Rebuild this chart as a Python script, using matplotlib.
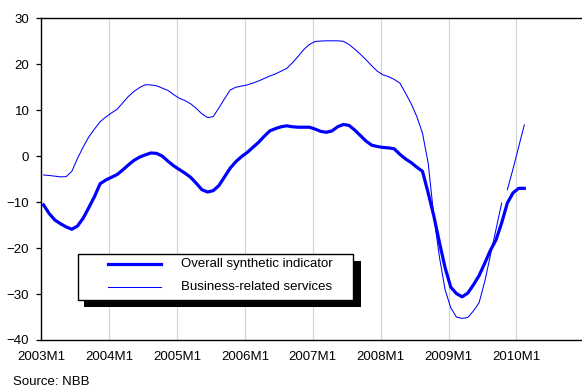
import matplotlib
matplotlib.use("Agg")
import matplotlib.pyplot as plt
import numpy as np
from matplotlib.patches import Rectangle
from matplotlib.lines import Line2D

plt.rcParams['font.family'] = ['Liberation Sans', 'DejaVu Sans']
plt.rcParams['font.size'] = 9.5

# monthly data, first value = 2003M1
overall = [
    -10.6, -12.5, -13.9, -14.7, -15.4, -15.9, -15.2, -13.5, -11.2, -8.8, -6.0, -5.2,
    -4.6, -4.0, -3.0, -1.9, -0.9, -0.2, 0.3, 0.7, 0.6, 0.0, -1.1, -2.1,
    -2.9, -3.7, -4.6, -5.9, -7.3, -7.8, -7.5, -6.4, -4.5, -2.6, -1.2, -0.1,
    0.8, 1.9, 3.0, 4.3, 5.5, 6.0, 6.4, 6.6, 6.4, 6.3, 6.3, 6.3,
    5.9, 5.4, 5.2, 5.5, 6.4, 6.9, 6.7, 5.7, 4.5, 3.3, 2.4, 2.1,
    1.9, 1.8, 1.6, 0.4, -0.6, -1.4, -2.4, -3.3, -8.0, -13.0, -18.8, -24.3,
    -28.5, -29.9, -30.6, -29.8, -28.0, -26.0, -23.3, -20.5, -18.2, -14.5, -10.2, -8.0,
    -7.0, -7.0,
]

# business-related services, 2003M1 - 2009M10
business = [
    -4.1, -4.2, -4.35, -4.5, -4.45, -3.3, -0.5, 2.0, 4.2, 5.9, 7.5, 8.5,
    9.4, 10.2, 11.6, 13.0, 14.1, 14.95, 15.55, 15.5, 15.3, 14.8, 14.3, 13.4,
    12.6, 12.1, 11.4, 10.4, 9.2, 8.4, 8.6, 10.5, 12.5, 14.4, 15.0, 15.25,
    15.5, 15.9, 16.35, 16.9, 17.45, 17.9, 18.5, 19.1, 20.3, 21.7, 23.2, 24.3,
    24.95, 25.05, 25.1, 25.1, 25.1, 25.0, 24.3, 23.3, 22.2, 21.0, 19.7, 18.5,
    17.7, 17.3, 16.7, 15.9, 13.7, 11.4, 8.6, 5.0, -1.5, -13.0, -22.0, -29.1,
    -33.0, -35.0, -35.3, -35.1, -33.7, -31.9, -27.3, -21.6, -15.9, -10.2,
]
# business-related services, 2009M11 - 2010M2 (drawn as a separate piece)
business_latest = [-7.3, -2.8, 2.0, 6.8]

years = list(range(2003, 2011))
year_labels = [f"{y}M1" for y in years]

W, H = 582, 387
fig = plt.figure(figsize=(W / 100, H / 100), dpi=100)
ax = fig.add_axes([41.3 / W, 1 - 340 / H, 1 - 41.3 / W, (340 - 18.3) / H])

months = np.arange(len(overall)) + 0.4
ax.plot(months, overall, color='#0000FF', lw=2.3, solid_joinstyle='round', zorder=3)
m_bus = np.arange(len(business)) + 0.4
ax.plot(m_bus, business, color='#0000FF', lw=0.75, zorder=3)
m_latest = np.arange(len(business), len(business) + len(business_latest)) + 0.4
ax.plot(m_latest, business_latest, color='#0000FF', lw=0.75, zorder=3)

ax.set_xlim(0, 95.6)
ax.set_ylim(-40, 30)
ax.set_yticks(range(-40, 31, 10))
ax.set_xticks([12 * i for i in range(len(years))])
ax.set_xticklabels(year_labels)
ax.tick_params(axis='x', length=0, pad=7.8, labelsize=9.5)
ax.tick_params(axis='y', length=3.3, width=0.9, pad=5.3, labelsize=9.5)

for x in range(12, 12 * len(years), 12):
    ax.axvline(x, color='#d3d3d3', lw=0.8, zorder=1)

for s in ('left', 'bottom', 'top'):
    ax.spines[s].set_linewidth(1.0)
ax.spines['right'].set_visible(False)


# legend drawn by hand: white box with a black drop shadow
def fx(px):
    return px / W


def fy(py):
    return 1 - py / H


fig.patches.append(Rectangle((fx(84), fy(307)), fx(361) - fx(84), fy(261) - fy(307),
                             transform=fig.transFigure, facecolor='black',
                             edgecolor='none', zorder=5))
fig.patches.append(Rectangle((fx(78.3), fy(300)), fx(353.3) - fx(78.3), fy(254.3) - fy(300),
                             transform=fig.transFigure, facecolor='white',
                             edgecolor='black', lw=1.0, zorder=6))
fig.lines.append(Line2D([fx(108), fx(161)], [fy(264.3)] * 2, transform=fig.transFigure,
                        color='#0000FF', lw=2.3, zorder=7))
fig.lines.append(Line2D([fx(108), fx(161)], [fy(287.3)] * 2, transform=fig.transFigure,
                        color='#0000FF', lw=0.75, zorder=7))
fig.text(fx(181), fy(264.3), "Overall synthetic indicator", va='center', ha='left',
         fontsize=9.5, zorder=8)
fig.text(fx(181), fy(287.3), "Business-related services", va='center', ha='left',
         fontsize=9.5, zorder=8)

fig.text(fx(12.7), fy(381.7), "Source: NBB", va='center', ha='left', fontsize=9.5)

fig.savefig("out.png", dpi=100)
